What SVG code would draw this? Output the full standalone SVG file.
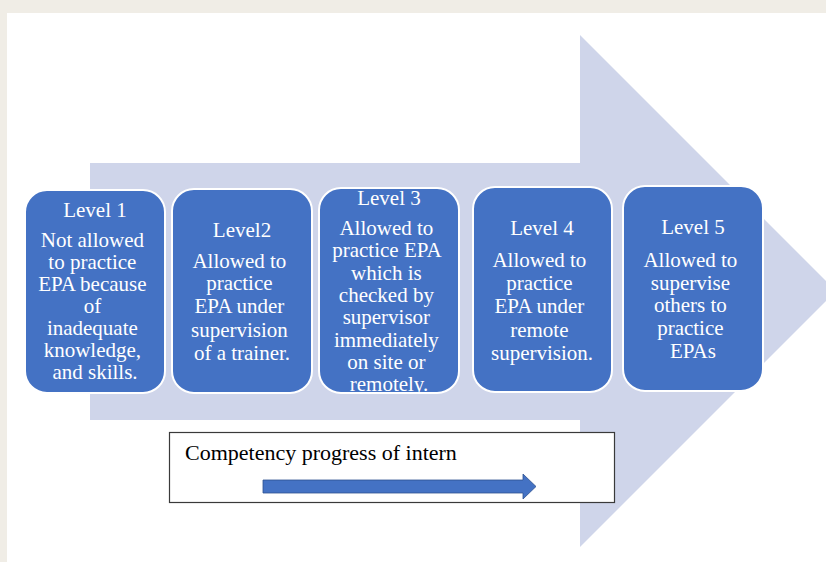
<svg xmlns="http://www.w3.org/2000/svg" width="826" height="562" viewBox="0 0 826 562">
  <style>
    .lvl { fill: #4472c4; stroke: #ffffff; stroke-width: 2; }
    .t { font-family: "Liberation Serif", "Times New Roman", serif; fill: #ffffff; text-anchor: middle; font-size: 21px; }
    .cap { font-family: "Liberation Serif", "Times New Roman", serif; font-size: 22px; fill: #000000; }
  </style>
  <defs>
    <clipPath id="clip3">
      <rect x="320" y="190" width="138" height="202" rx="21"/>
    </clipPath>
  </defs>

  <!-- page frame -->
  <rect x="0" y="0" width="826" height="562" fill="#f0ede6"/>
  <rect x="7" y="13" width="819" height="549" fill="#ffffff"/>

  <!-- large background arrow -->
  <polygon points="90,163 580,163 580,35 836,291 580,547 580,420 90,420" fill="#cfd5ea"/>

  <g id="level1">
    <rect class="lvl" x="25" y="190" width="140" height="203" rx="22"/>
    <text class="t" x="95" y="217">Level 1</text>
    <text class="t">
      <tspan x="95" y="247">Not allowed</tspan>
      <tspan x="95" y="269">to practice</tspan>
      <tspan x="95" y="291">EPA because</tspan>
      <tspan x="95" y="313">of</tspan>
      <tspan x="95" y="335">inadequate</tspan>
      <tspan x="95" y="357">knowledge,</tspan>
      <tspan x="95" y="379">and skills.</tspan>
    </text>
  </g>

  <g id="level2">
    <rect class="lvl" x="172" y="189" width="140" height="204" rx="22"/>
    <text class="t" x="242" y="237">Level2</text>
    <text class="t">
      <tspan x="242" y="268">Allowed to</tspan>
      <tspan x="242" y="290">practice</tspan>
      <tspan x="242" y="313">EPA under</tspan>
      <tspan x="242" y="337">supervision</tspan>
      <tspan x="242" y="360">of a trainer.</tspan>
    </text>
  </g>

  <g id="level3">
    <rect class="lvl" x="319" y="188" width="140" height="205" rx="22"/>
    <g clip-path="url(#clip3)">
      <text class="t" x="389" y="205">Level 3</text>
      <text class="t">
        <tspan x="389" y="235">Allowed to</tspan>
        <tspan x="389" y="257">practice EPA</tspan>
        <tspan x="389" y="280">which is</tspan>
        <tspan x="389" y="302">checked by</tspan>
        <tspan x="389" y="324">supervisor</tspan>
        <tspan x="389" y="347">immediately</tspan>
        <tspan x="389" y="369">on site or</tspan>
        <tspan x="389" y="391">remotely.</tspan>
      </text>
    </g>
  </g>

  <g id="level4">
    <rect class="lvl" x="473" y="187" width="139" height="205" rx="22"/>
    <text class="t" x="542" y="235">Level 4</text>
    <text class="t">
      <tspan x="542" y="267">Allowed to</tspan>
      <tspan x="542" y="290">practice</tspan>
      <tspan x="542" y="313">EPA under</tspan>
      <tspan x="542" y="337">remote</tspan>
      <tspan x="542" y="360">supervision.</tspan>
    </text>
  </g>

  <g id="level5">
    <rect class="lvl" x="623" y="186" width="140" height="205" rx="22"/>
    <text class="t" x="693" y="234">Level 5</text>
    <text class="t">
      <tspan x="693" y="267">Allowed to</tspan>
      <tspan x="693" y="290">supervise</tspan>
      <tspan x="693" y="312">others to</tspan>
      <tspan x="693" y="335">practice</tspan>
      <tspan x="693" y="358">EPAs</tspan>
    </text>
  </g>

  <!-- legend box with progress arrow -->
  <g id="legend">
    <rect x="169.5" y="432.5" width="445" height="70" fill="#ffffff" stroke="#3a3a3a" stroke-width="1.2"/>
    <text class="cap" x="185" y="460">Competency progress of intern</text>
    <g id="connectors">
      <polygon points="263,480 523,480 523,474 536,486.5 523,499 523,493 263,493" fill="#4472c4" stroke="#2f528f" stroke-width="0.8"/>
    </g>
  </g>
</svg>
